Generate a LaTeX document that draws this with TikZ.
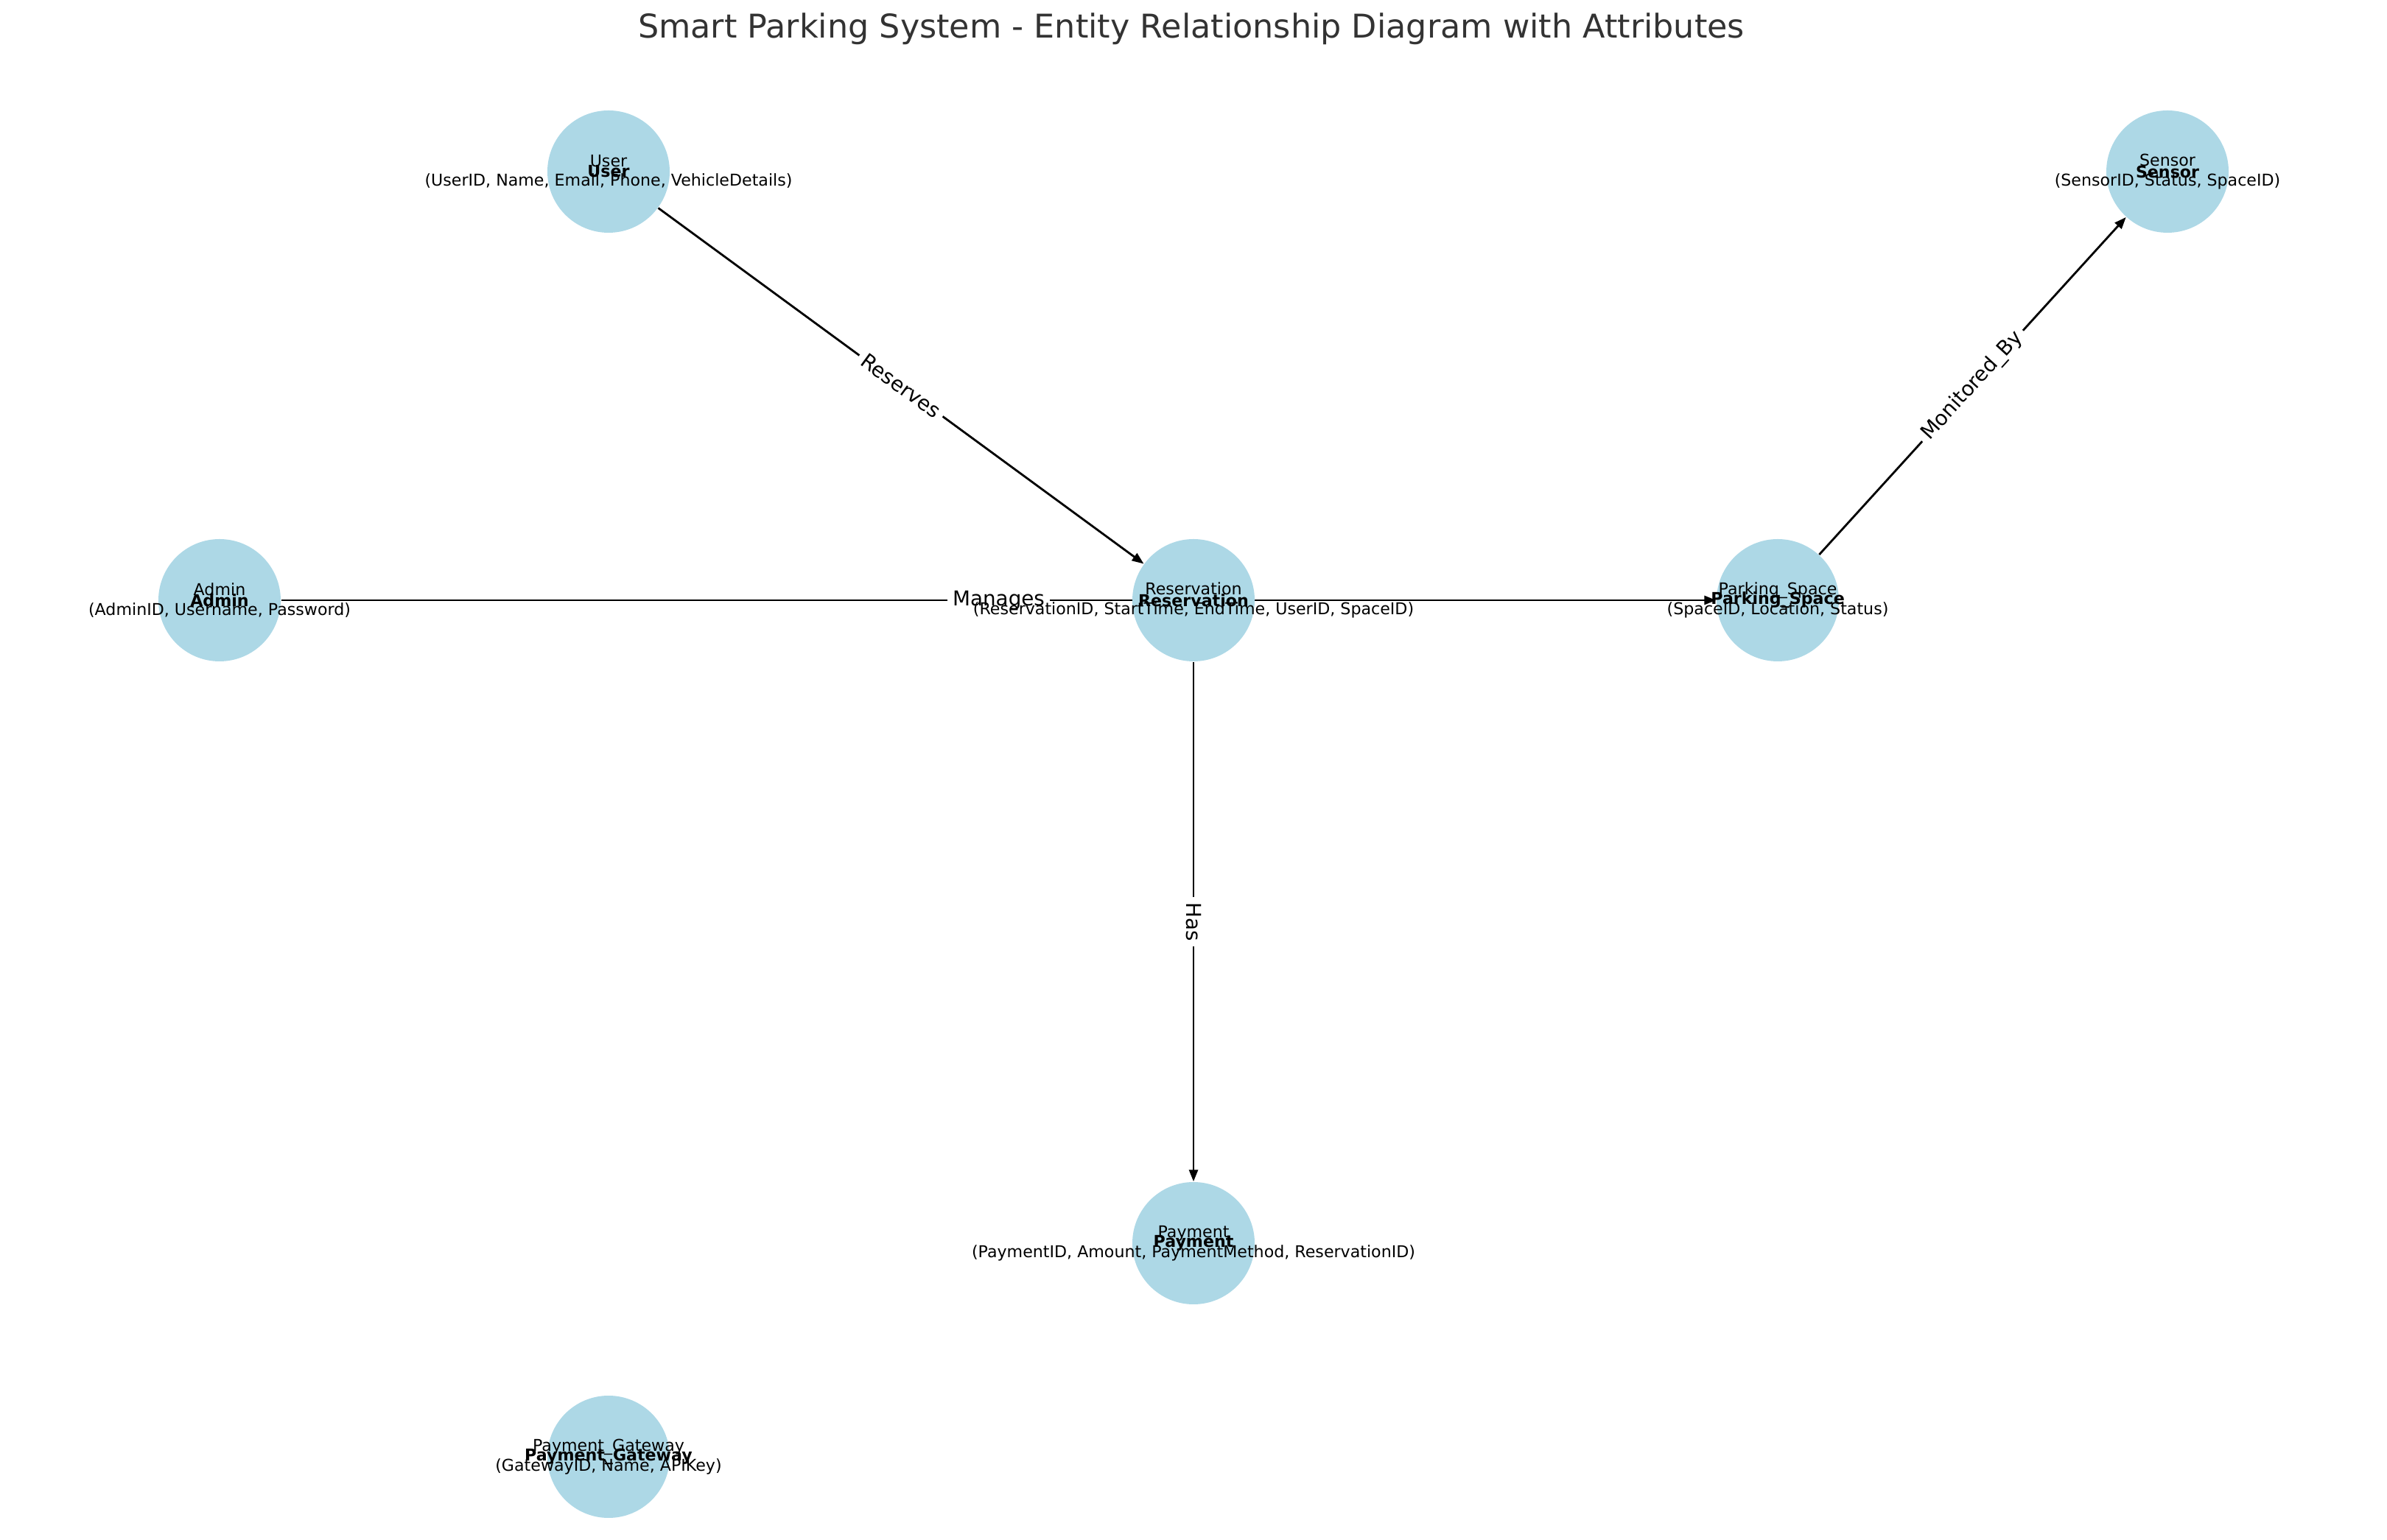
\documentclass[tikz,border=0pt]{standalone}
\usepackage{fontspec}
\setmainfont{DejaVu Sans}
\usetikzlibrary{arrows.meta,backgrounds}
\definecolor{lightblue}{HTML}{ADD8E6}
\definecolor{titlegray}{HTML}{333333}
\tikzset{
	entity/.style={circle, fill=lightblue, minimum size=1.66cm, inner sep=0pt},
	entityname/.style={inner sep=0pt, font=\fontsize{6.3}{7.6}\selectfont\bfseries},
	attrs/.style={align=center, inner sep=0pt, font=\fontsize{6.3}{7.6}\selectfont},
	rel/.style={line width=0.8pt, -{Triangle[length=0.16cm,width=0.12cm]}},
	rellabel/.style={fill=white, inner sep=0.07cm, font=\fontsize{7.9}{9}\selectfont},
}
\def\erentity(#1)(#2)#3#4{\node[entity] (#1) at (#2) {};
	\node[entityname] (#1-name) at (#1.center) {#3};
	\node[attrs] (#1-attrs) at (#1.center) {#3\\(#4)};}

\begin{document}
\begin{tikzpicture}
		%%%%% START %%%%%
		\useasboundingbox (0, 0) rectangle (32.4, 20.9);
		
		\node[font=\fontsize{12.65}{15}\selectfont, text=titlegray, anchor=base] (title) at (16.17, 20.38) {Smart Parking System - Entity Relationship Diagram with Attributes};
		
		% entities
		\erentity(user)(8.26, 18.57){User}{UserID, Name, Email, Phone, VehicleDetails}
		\erentity(sensor)(29.42, 18.57){Sensor}{SensorID, Status, SpaceID}
		\erentity(admin)(2.98, 12.75){Admin}{AdminID, Username, Password}
		\erentity(res)(16.20, 12.75){Reservation}{ReservationID, StartTime, EndTime, UserID, SpaceID}
		\erentity(space)(24.13, 12.75){Parking\_Space}{SpaceID, Location, Status}
		\erentity(pay)(16.20, 4.02){Payment}{PaymentID, Amount, PaymentMethod, ReservationID}
		\erentity(gate)(8.26, 1.12){Payment\_Gateway}{GatewayID, Name, APIKey}
		
		% relationships
		\begin{scope}[on background layer]
		\draw[rel] (user) -- node[rellabel, sloped] {Reserves} (res);
		\draw[rel] (admin) -- node[rellabel, sloped] {Manages} (space);
		\draw[rel] (res) -- node[rellabel, rotate=-90] {Has} (pay);
		\draw[rel] (space) -- node[rellabel, sloped] {Monitored\_By} (sensor);
		\end{scope}
		
		%%%%% END %%%%%
\end{tikzpicture}
\end{document}
